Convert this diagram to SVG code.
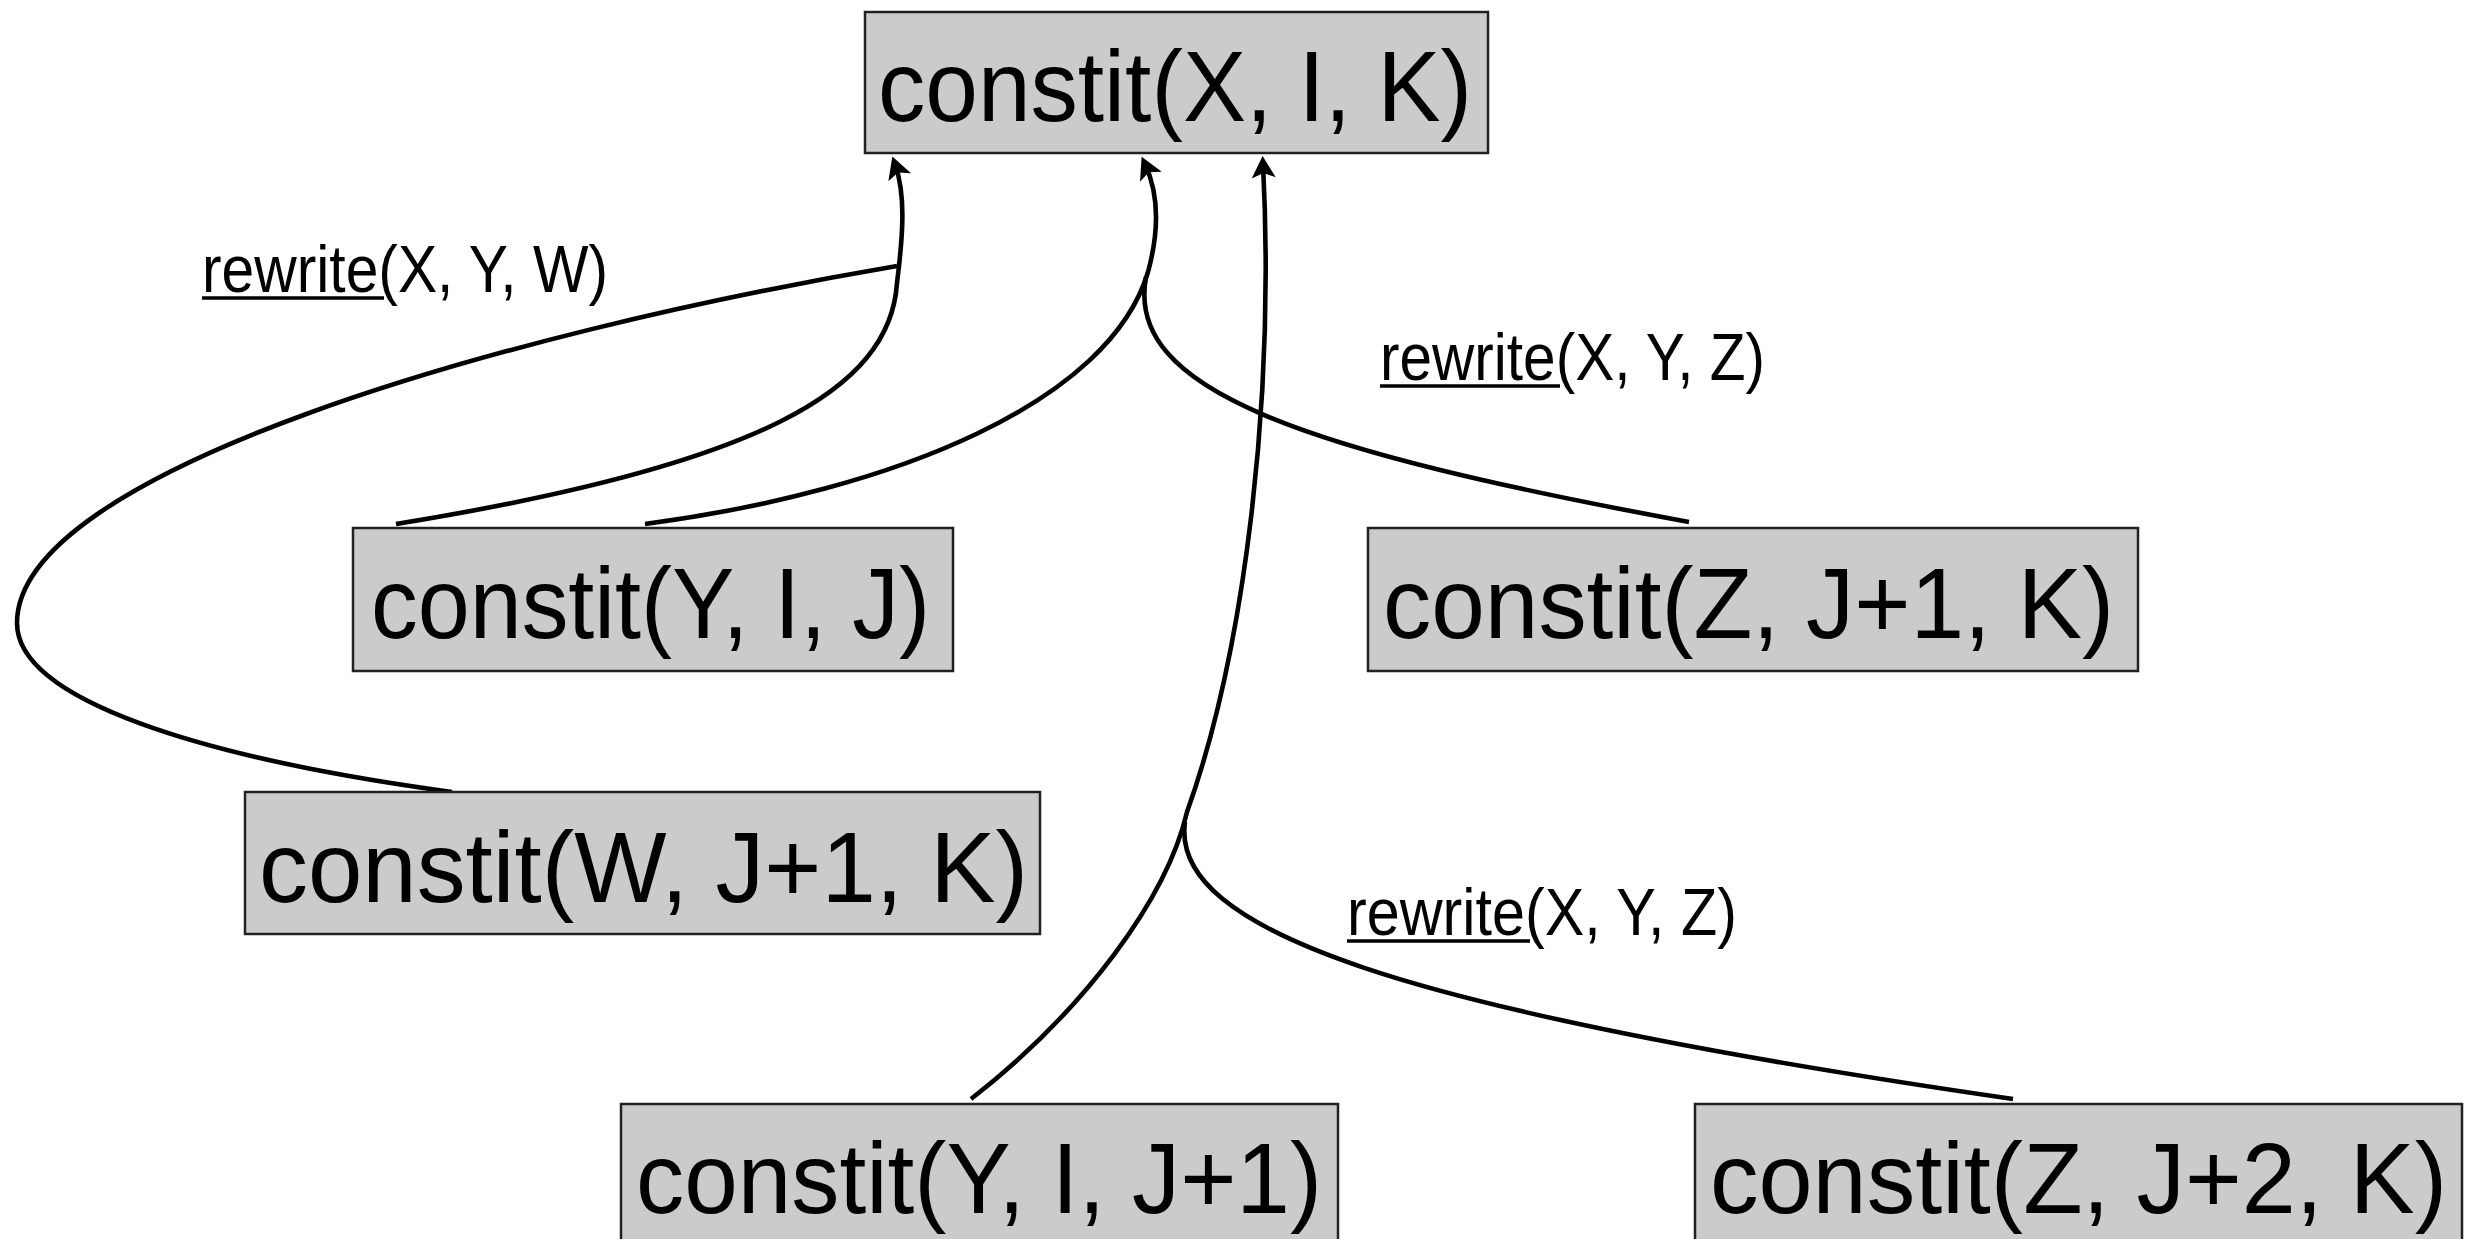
<svg xmlns="http://www.w3.org/2000/svg" width="2479" height="1239" viewBox="0 0 2479 1239">
  <style>
    .box { fill: #cbcbcb; stroke: #222; stroke-width: 2.5; }
    .big { font-family: "Liberation Sans", Arial, sans-serif; font-size: 100px; fill: #000; }
    .lbl { font-family: "Liberation Sans", Arial, sans-serif; font-size: 66px; fill: #000; }
    .uline { stroke: #000; stroke-width: 3.5; }
    .edge { fill: none; stroke: #000; stroke-width: 4.6; stroke-linecap: butt; }
  </style>
  <defs>
    <marker id="arrow" markerUnits="userSpaceOnUse" orient="auto" viewBox="-20 -14 32 28" markerWidth="32" markerHeight="28" refX="0" refY="0" overflow="visible">
      <path d="M 8,0 L -14,-12 L -9,0 L -14,12 Z" fill="#000"/>
    </marker>
  </defs>
  <rect width="2479" height="1239" fill="#fff"/>

  <g id="connectors">
    <path class="edge" d="M 396,524 C 760,465 890,390 897,283 C 903,235 906,195 895,164" marker-end="url(#arrow)"/>
    <path class="edge" d="M 452,792 C 202,758 17,700 17,623 C 17,473 497,334 897,266"/>
    <path class="edge" d="M 645,524 C 900,490 1110,400 1148,272 C 1160,228 1158,192 1145,164" marker-end="url(#arrow)"/>
    <path class="edge" d="M 1146,277 C 1125,390 1300,450 1689,522"/>
    <path class="edge" d="M 971,1099 C 1085,1010 1167,898 1187,812 C 1245,650 1275,400 1263,164" marker-end="url(#arrow)"/>
    <path class="edge" d="M 1185,822 C 1170,930 1400,1010 2013,1099"/>
  </g>

  <g id="label-rewrite-xyw">
    <text class="lbl" x="202" y="292" textLength="406" lengthAdjust="spacingAndGlyphs">rewrite(X, Y, W)</text>
    <line class="uline" x1="202" y1="298" x2="384" y2="298"/>
  </g>
  <g id="label-rewrite-xyz-1">
    <text class="lbl" x="1380" y="380" textLength="385" lengthAdjust="spacingAndGlyphs">rewrite(X, Y, Z)</text>
    <line class="uline" x1="1380" y1="386" x2="1560" y2="386"/>
  </g>
  <g id="label-rewrite-xyz-2">
    <text class="lbl" x="1347" y="935" textLength="390" lengthAdjust="spacingAndGlyphs">rewrite(X, Y, Z)</text>
    <line class="uline" x1="1347" y1="941" x2="1530" y2="941"/>
  </g>

  <g id="node-x-i-k">
    <rect class="box" x="865" y="12" width="623" height="141"/>
    <text class="big" x="878" y="121" textLength="594" lengthAdjust="spacingAndGlyphs">constit(X, I, K)</text>
  </g>
  <g id="node-y-i-j">
    <rect class="box" x="353" y="528" width="600" height="143"/>
    <text class="big" x="371" y="638" textLength="559" lengthAdjust="spacingAndGlyphs">constit(Y, I, J)</text>
  </g>
  <g id="node-z-j1-k">
    <rect class="box" x="1368" y="528" width="770" height="143"/>
    <text class="big" x="1383" y="638" textLength="731" lengthAdjust="spacingAndGlyphs">constit(Z, J+1, K)</text>
  </g>
  <g id="node-w-j1-k">
    <rect class="box" x="245" y="792" width="795" height="142"/>
    <text class="big" x="259" y="902" textLength="769" lengthAdjust="spacingAndGlyphs">constit(W, J+1, K)</text>
  </g>
  <g id="node-y-i-j1">
    <rect class="box" x="621" y="1104" width="717" height="150"/>
    <text class="big" x="636" y="1213" textLength="686" lengthAdjust="spacingAndGlyphs">constit(Y, I, J+1)</text>
  </g>
  <g id="node-z-j2-k">
    <rect class="box" x="1695" y="1104" width="767" height="150"/>
    <text class="big" x="1710" y="1213" textLength="737" lengthAdjust="spacingAndGlyphs">constit(Z, J+2, K)</text>
  </g>
</svg>
